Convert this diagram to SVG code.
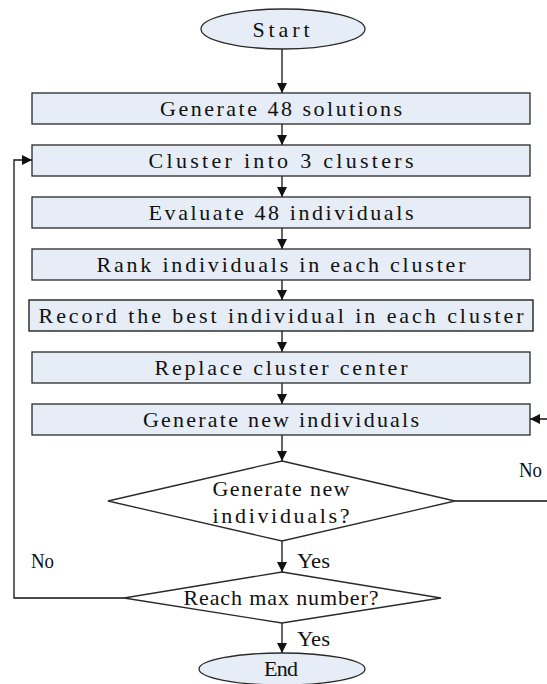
<svg xmlns="http://www.w3.org/2000/svg" width="547" height="684" viewBox="0 0 547 684">
<style>
.n{fill:#E6EDF7;stroke:#2a2a2a;stroke-width:1.3}
.d{fill:#fff;stroke:#2a2a2a;stroke-width:1.3}
.t{font-family:"Liberation Serif","DejaVu Serif",serif;font-size:22px;fill:#111;text-anchor:middle;dominant-baseline:central}
.l{font-family:"Liberation Serif","DejaVu Serif",serif;font-size:22px;fill:#111;dominant-baseline:central}
.c{fill:none;stroke:#111;stroke-width:1.3}
</style>
<defs>
<marker id="a" viewBox="0 0 10 10" refX="10" refY="5" markerWidth="10" markerHeight="10" markerUnits="userSpaceOnUse" orient="auto">
<path d="M0,0 L10,5 L0,10 z" fill="#111"/>
</marker>
</defs>
<rect width="547" height="684" fill="#fff"/>
<g id="connectors">
<path class="c" d="M282,49 V93" marker-end="url(#a)"/>
<path class="c" d="M282,124 V145" marker-end="url(#a)"/>
<path class="c" d="M282,176 V197" marker-end="url(#a)"/>
<path class="c" d="M282,228 V249" marker-end="url(#a)"/>
<path class="c" d="M282,280 V300" marker-end="url(#a)"/>
<path class="c" d="M282,331 V352" marker-end="url(#a)"/>
<path class="c" d="M282,383 V404" marker-end="url(#a)"/>
<path class="c" d="M282,435 V461" marker-end="url(#a)"/>
<path class="c" d="M282,541 V572" marker-end="url(#a)"/>
<path class="c" d="M282,623 V653" marker-end="url(#a)"/>
<path class="c" d="M455,501 H549 V419 H530" marker-end="url(#a)"/>
<path class="c" d="M124,598 H14 V160 H32" marker-end="url(#a)"/>
<text class="l" x="297" y="560" textLength="33" lengthAdjust="spacingAndGlyphs">Yes</text>
<text class="l" x="297" y="638" textLength="33" lengthAdjust="spacingAndGlyphs">Yes</text>
<text class="l" x="31" y="560" textLength="23" lengthAdjust="spacingAndGlyphs">No</text>
<text class="l" x="519" y="469" textLength="23" lengthAdjust="spacingAndGlyphs">No</text>
</g>
<g id="start"><ellipse class="n" cx="283" cy="29" rx="82" ry="20"/><text class="t" x="281" y="29" textLength="57" lengthAdjust="spacing">Start</text></g>
<g id="gen48"><rect class="n" x="32" y="93" width="498" height="31"/><text class="t" x="281" y="108.5" textLength="242" lengthAdjust="spacing">Generate 48 solutions</text></g>
<g id="cluster"><rect class="n" x="32" y="145" width="498" height="31"/><text class="t" x="281" y="160.5" textLength="265" lengthAdjust="spacing">Cluster into 3 clusters</text></g>
<g id="evaluate"><rect class="n" x="32" y="197" width="498" height="31"/><text class="t" x="281" y="212.5" textLength="265" lengthAdjust="spacing">Evaluate 48 individuals</text></g>
<g id="rank"><rect class="n" x="32" y="249" width="498" height="31"/><text class="t" x="281" y="264.5" textLength="369" lengthAdjust="spacing">Rank individuals in each cluster</text></g>
<g id="record"><rect class="n" x="29" y="300" width="504" height="31" style="stroke:#111"/><text class="t" x="281" y="315.5" textLength="485" lengthAdjust="spacing">Record the best individual in each cluster</text></g>
<g id="replace"><rect class="n" x="32" y="352" width="498" height="31"/><text class="t" x="281" y="367.5" textLength="253" lengthAdjust="spacing">Replace cluster center</text></g>
<g id="gennew"><rect class="n" x="32" y="404" width="498" height="31"/><text class="t" x="281" y="419.5" textLength="276" lengthAdjust="spacing">Generate new individuals</text></g>
<g id="decide1"><polygon class="d" points="282,461 455,501 282,541 108,501"/><text class="t" x="281" y="488" textLength="137" lengthAdjust="spacing">Generate new</text><text class="t" x="281" y="515" textLength="137" lengthAdjust="spacing">individuals?</text></g>
<g id="decide2"><polygon class="d" points="282,572 441,598 282,623 124,598"/><text class="t" x="281" y="597" textLength="195" lengthAdjust="spacing">Reach max number?</text></g>
<g id="end"><ellipse class="n" cx="282" cy="669" rx="83" ry="16"/><text class="t" x="281" y="668" textLength="34" lengthAdjust="spacing">End</text></g>
</svg>
